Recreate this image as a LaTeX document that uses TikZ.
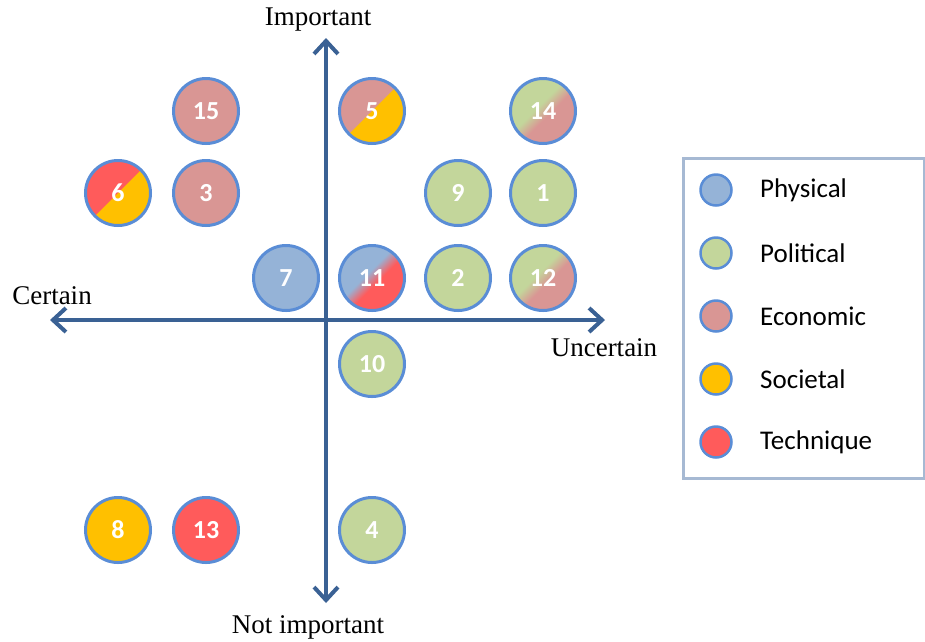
\documentclass[tikz,border=0pt]{standalone}
\usepackage{fontspec}
\newfontfamily\calib{Carlito}
\newfontfamily\serifax{Liberation Serif}
\usetikzlibrary{arrows.meta}
\definecolor{phys}{HTML}{95B3D7}
\definecolor{poli}{HTML}{C3D69B}
\definecolor{econ}{HTML}{D99694}
\definecolor{soci}{HTML}{FFC000}
\definecolor{tech}{HTML}{FF5B5B}
\definecolor{ring}{HTML}{5A8DD6}
\definecolor{axiscol}{HTML}{3A6194}
\definecolor{lgd}{HTML}{A6B9D3}
\pgfdeclarehorizontalshading{greenpink}{100bp}{color(0bp)=(poli); color(45bp)=(poli); color(55bp)=(econ); color(100bp)=(econ)}
\pgfdeclarehorizontalshading{bluered}{100bp}{color(0bp)=(phys); color(45bp)=(phys); color(55bp)=(tech); color(100bp)=(tech)}
\tikzset{
  bub/.style={circle, draw=ring, line width=3pt, minimum size=65pt, inner sep=0pt,
    text=white, font=\calib\bfseries\fontsize{26}{26}\selectfont},
  lbub/.style={circle, draw=ring, line width=2.5pt, minimum size=31pt, inner sep=0pt},
  ltext/.style={anchor=west, font=\calib\fontsize{27}{27}\selectfont, inner sep=0pt},
  axlabel/.style={font=\serifax\fontsize{27}{27}\selectfont, inner sep=0pt},
  axline/.style={draw=axiscol, line width=4pt, {Straight Barb[length=13pt,width=24pt]}-{Straight Barb[length=13pt,width=24pt]}},
  splitfill/.style 2 args={path picture={
    \fill[#1] (path picture bounding box.south west) rectangle (path picture bounding box.north east);
    \fill[#2] (path picture bounding box.south west) -- (path picture bounding box.north east) -- (path picture bounding box.south east) -- cycle;}},
  gradfill/.style={shading=#1, shading angle=-45}
}
\begin{document}
\begin{tikzpicture}[x=1pt,y=-1pt]
\useasboundingbox (0,0) rectangle (925,641);
% axes
\coordinate (L) at (50,320);
\coordinate (R) at (605,320);
\coordinate (T) at (326,38);
\coordinate (B) at (326,603);
\draw[axline] (L) -- (R);
\draw[axline] (T) -- (B);
\node[axlabel] (imp) at (318,20) {Important};
\node[axlabel] (notimp) at (308,627) {Not important};
\node[axlabel] (cert) at (52,296) {Certain};
\node[axlabel] (unc) at (604,348) {Uncertain};
% bubbles
\node[bub, fill=econ] (n15) at (206,111) {15};
\node[bub, splitfill={econ}{soci}] (n5) at (372,111) {5};
\node[bub, gradfill=greenpink] (n14) at (543,111) {14};
\node[bub, splitfill={tech}{soci}] (n6) at (118,193) {6};
\node[bub, fill=econ] (n3) at (206,193) {3};
\node[bub, fill=poli] (n9) at (458,193) {9};
\node[bub, fill=poli] (n1) at (543,193) {1};
\node[bub, fill=phys] (n7) at (286,278) {7};
\node[bub, gradfill=bluered] (n11) at (372,278) {11};
\node[bub, fill=poli] (n2) at (458,278) {2};
\node[bub, gradfill=greenpink] (n12) at (543,278) {12};
\node[bub, fill=poli] (n10) at (372,364) {10};
\node[bub, fill=soci] (n8) at (118,530) {8};
\node[bub, fill=tech] (n13) at (206,530) {13};
\node[bub, fill=poli] (n4) at (372,530) {4};
% legend
\node[draw=lgd, line width=2.5pt, minimum width=241pt, minimum height=320pt, inner sep=0pt] (legend) at (804,318.5) {};
\node[lbub, fill=phys] (lp) at (716,190) {};
\node[lbub, fill=poli] (lo) at (716,253) {};
\node[lbub, fill=econ] (le) at (716,316) {};
\node[lbub, fill=soci] (ls) at (716,379) {};
\node[lbub, fill=tech] (lt) at (716,442) {};
\node[ltext] (tp) at (760,190) {Physical};
\node[ltext] (to) at (760,253) {Political};
\node[ltext] (te) at (760,316) {Economic};
\node[ltext] (ts) at (760,379) {Societal};
\node[ltext] (tt) at (760,442) {Technique};
\end{tikzpicture}
\end{document}
